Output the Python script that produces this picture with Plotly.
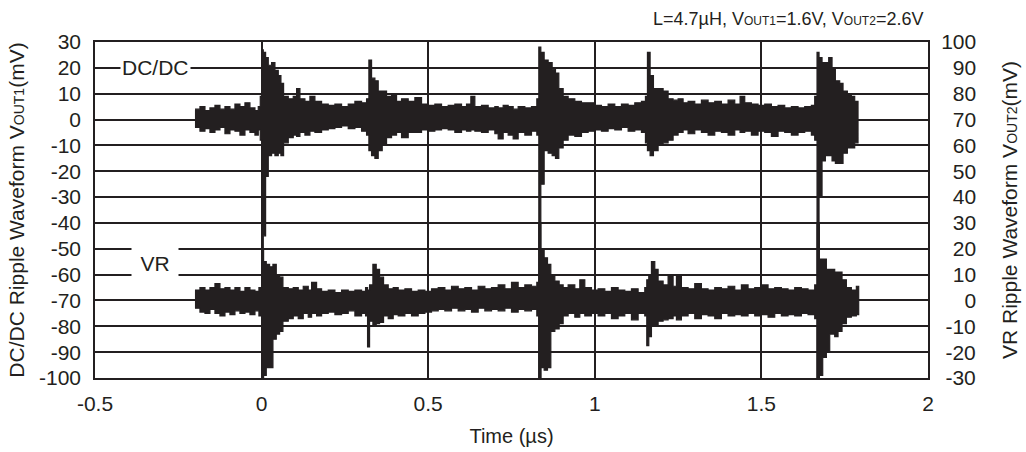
import plotly.graph_objects as go

# ---- DC/DC ripple (left axis, mV): time (us), upper and lower envelope ----
t_dcdc = [-0.200, -0.185, -0.170, -0.155, -0.140, -0.125, -0.110, -0.095, -0.080, -0.065,
          -0.050, -0.035, -0.020, -0.010, -0.004, 0.000, 0.005, 0.012, 0.020, 0.030,
          0.040, 0.050, 0.058, 0.066, 0.080, 0.095, 0.105, 0.115, 0.130, 0.145,
          0.160, 0.180, 0.200, 0.220, 0.240, 0.260, 0.280, 0.300, 0.315, 0.322,
          0.330, 0.340, 0.350, 0.362, 0.375, 0.390, 0.405, 0.420, 0.440, 0.460,
          0.480, 0.500, 0.520, 0.540, 0.560, 0.580, 0.600, 0.615, 0.628, 0.640,
          0.660, 0.680, 0.700, 0.710, 0.725, 0.740, 0.755, 0.770, 0.790, 0.810,
          0.826, 0.832, 0.838, 0.848, 0.860, 0.872, 0.882, 0.892, 0.905, 0.920,
          0.940, 0.960, 0.980, 1.000, 1.020, 1.040, 1.060, 1.080, 1.100, 1.120,
          1.140, 1.152, 1.158, 1.166, 1.176, 1.190, 1.205, 1.220, 1.235, 1.250,
          1.265, 1.280, 1.300, 1.320, 1.340, 1.360, 1.380, 1.400, 1.420, 1.436,
          1.450, 1.470, 1.490, 1.510, 1.530, 1.550, 1.570, 1.590, 1.610, 1.630,
          1.650, 1.660, 1.667, 1.673, 1.682, 1.692, 1.702, 1.712, 1.722, 1.735,
          1.745, 1.758, 1.770, 1.780, 1.790]
dcdc_hi = [4, 5, 3.5, 4.5, 5.5, 4, 5, 4, 6, 5,
           6.5, 4.5, 3.5, 5, 9, 27, 26, 24, 21, 22,
           19, 17, 14, 9, 8, 9, 12, 8, 7, 9,
           7, 6, 5.5, 6, 5, 6, 7, 6.5, 8, 23,
           16, 15, 11, 11, 9, 9.5, 7, 8, 7, 8.5,
           6, 5.5, 6, 5, 5.5, 6, 5, 6, 9, 5,
           5.5, 4.5, 5, 4.5, 5.5, 5, 4, 5, 4.5, 5,
           8, 28, 26, 23, 22, 19.5, 18, 12, 9, 8,
           7, 6.5, 6.5, 5.5, 5, 6, 5, 6, 5.5, 6.5,
           7, 9, 26, 17, 12, 12, 11, 8, 7.5, 8,
           6.5, 7, 6, 7.5, 6.5, 7, 6, 7.5, 6, 9,
           6.5, 6, 5.5, 6, 5, 5.5, 4.5, 5, 4.5, 5,
           5.5, 9, 26, 24, 22, 22, 24, 20, 15, 14,
           11, 10, 9, 7, 4]
dcdc_lo = [-3, -4.5, -3.5, -5, -4, -3, -5.5, -4, -4.5, -6,
           -4, -5, -6, -4, -8, -100, -45, -22, -14, -13,
           -14, -13, -14, -9, -7, -6, -6.5, -5, -6, -4.5,
           -5, -4, -3.5, -3, -2.5, -3.5, -3, -4.5, -6, -12,
           -14, -15, -12, -10, -7, -6, -5, -7, -5, -5,
           -4, -4.5, -4, -3.5, -4, -5, -4, -4.5, -4, -4.5,
           -5, -4, -5.5, -7.5, -5, -6, -7.5, -5, -6, -4.5,
           -6, -100, -25, -12, -13, -14, -15, -11, -8, -6,
           -6.5, -5, -4.5, -4, -4.5, -3.5, -4, -3, -4.5, -4,
           -5, -9, -12, -14, -12, -10, -9, -8, -6, -5,
           -4, -5.5, -4, -5, -6, -4.5, -5, -6, -4, -5,
           -4.5, -6, -4.5, -5, -6.5, -4.5, -5, -6, -5, -4.5,
           -6, -8, -100, -30, -16, -14, -14, -16, -17, -17,
           -13, -11, -11, -9, -4]

# ---- VR ripple (right axis, mV): time (us), upper and lower envelope ----
t_vr = [-0.200, -0.185, -0.170, -0.155, -0.140, -0.125, -0.110, -0.095, -0.080, -0.065,
        -0.050, -0.035, -0.020, -0.008, 0.000, 0.006, 0.014, 0.024, 0.034, 0.044,
        0.054, 0.064, 0.080, 0.095, 0.110, 0.125, 0.140, 0.150, 0.165, 0.180,
        0.200, 0.220, 0.240, 0.260, 0.280, 0.300, 0.312, 0.318, 0.324, 0.334,
        0.344, 0.354, 0.366, 0.380, 0.395, 0.410, 0.430, 0.450, 0.470, 0.490,
        0.510, 0.530, 0.550, 0.570, 0.590, 0.610, 0.630, 0.650, 0.670, 0.690,
        0.710, 0.730, 0.750, 0.770, 0.790, 0.810, 0.826, 0.832, 0.838, 0.848,
        0.858, 0.868, 0.880, 0.893, 0.905, 0.920, 0.940, 0.955, 0.970, 0.990,
        1.010, 1.030, 1.050, 1.070, 1.090, 1.110, 1.130, 1.150, 1.156, 1.162,
        1.170, 1.180, 1.190, 1.205, 1.220, 1.235, 1.245, 1.260, 1.280, 1.300,
        1.320, 1.340, 1.360, 1.380, 1.400, 1.420, 1.440, 1.460, 1.480, 1.500,
        1.520, 1.540, 1.560, 1.580, 1.600, 1.620, 1.640, 1.660, 1.667, 1.674,
        1.684, 1.695, 1.705, 1.720, 1.730, 1.742, 1.755, 1.770, 1.785, 1.792]
vr_hi = [4, 5, 4, 5, 6.5, 4.5, 5, 4, 5, 3.5,
         5, 4, 3.5, 5, 20, 15, 14, 13, 14, 10,
         9, 5, 4.5, 5, 4, 5.5, 4, 7, 4.5, 3.5,
         4, 3, 4, 3.5, 4, 3.5, 5, 4, 6, 14,
         12, 9, 6, 4.5, 5, 4, 4.5, 3.5, 4, 3.5,
         4.5, 5, 4, 5.5, 4.5, 5, 4, 5.5, 4.5, 5,
         6, 4.5, 7, 5, 6, 5.5, 7, 30, 20, 16.5,
         14, 10, 7.5, 6, 5, 6, 4.5, 8, 5, 4,
         4.5, 3.5, 5, 4, 3.5, 4.5, 3, 5, 8, 10,
         15, 12, 7.5, 6, 9.5, 5.5, 9.5, 5, 4.5, 6.5,
         4.5, 4, 5, 4.5, 5.5, 4, 6, 4.5, 5, 6,
         4.5, 5, 4.5, 4, 5, 4.5, 4, 6, 30, 16,
         16, 12, 12, 11, 11, 8, 5, 4, 5.5, 3]
vr_lo = [-3, -4.5, -5, -3.5, -5, -6, -4.5, -5.5, -4, -5,
         -4.5, -5.5, -4, -6, -30, -29, -26, -26, -15, -13,
         -12, -8, -7, -6, -7, -5, -6.5, -5, -6, -5,
         -4.5, -5.5, -5, -4, -6, -5, -6, -18, -8, -10,
         -9, -8.5, -6, -7, -5.5, -6, -5, -6, -5, -4.5,
         -4, -3.5, -4, -3, -4, -3.5, -4.5, -3, -4, -3.5,
         -4, -3, -4.5, -3.5, -4, -3.5, -6, -30, -26, -27,
         -26, -12, -11, -9, -6, -5, -6.5, -5, -6, -5,
         -6, -5, -7, -6, -5, -7.5, -5, -6, -17.5, -14,
         -10, -10, -8, -7.5, -7, -6, -7.5, -6, -5, -7,
         -5.5, -6, -7, -5, -6, -5.5, -6, -5, -6, -5.5,
         -6.5, -5, -6, -5.5, -6, -5, -5.5, -7, -30, -29,
         -22, -20, -13, -14, -12, -9, -6.5, -6, -5.5, -3]

x_ticks = [-0.5, 0, 0.5, 1, 1.5, 2]
x_labels = ["-0.5", "0", "0.5", "1", "1.5", "2"]
left_ticks = list(range(-100, 31, 10))
right_ticks = list(range(-30, 101, 10))

FONT = "Liberation Sans, Arial, sans-serif"
INK = "#231f20"
FSP = "\u2007"   # figure space (digit width)
THN = "\u2009"   # thin space


def left_label(v):
    return str(v)


def right_label(v):
    s = str(v)
    if s.startswith("-"):
        return THN + s
    return FSP * (3 - len(s)) + s


def step_band(t, hi, lo):
    """closed step-shaped outline between upper and lower envelopes"""
    n = len(t)
    xs, ys = [], []
    for i in range(n):
        x_end = t[i + 1] if i + 1 < n else t[i]
        xs += [t[i], x_end]
        ys += [hi[i], hi[i]]
    for i in range(n - 1, -1, -1):
        x_end = t[i + 1] if i + 1 < n else t[i]
        xs += [x_end, t[i]]
        ys += [lo[i], lo[i]]
    return xs, ys


fig = go.Figure()
for t, hi, lo, ax in [(t_dcdc, dcdc_hi, dcdc_lo, "y"), (t_vr, vr_hi, vr_lo, "y2")]:
    xs, ys = step_band(t, hi, lo)
    fig.add_trace(go.Scatter(x=xs, y=ys, mode="lines", fill="toself", fillcolor=INK,
                             line=dict(color=INK, width=1.2), yaxis=ax,
                             hoverinfo="skip", showlegend=False))

small = "<span style='font-size:{}px'>{}</span>"
TICKFONT = dict(family=FONT, size=21, color=INK)
CLEAR = "rgba(0,0,0,0)"

fig.update_layout(
    width=1026, height=452,
    margin=dict(l=95, r=98, t=42, b=74),
    paper_bgcolor="white", plot_bgcolor="white",
    font=dict(family=FONT, size=21, color=INK),
    showlegend=False,
    xaxis=dict(range=[-0.5, 2], tickvals=x_ticks, ticktext=x_labels, tickfont=TICKFONT,
               showgrid=True, gridcolor=INK, gridwidth=1.5, zeroline=False,
               showline=True, linecolor=INK, linewidth=1.5, mirror=True,
               ticks="outside", ticklen=6, tickcolor=CLEAR, automargin=False,
               title=dict(text="Time (µs)", font=dict(size=20), standoff=15)),
    yaxis=dict(range=[-100, 30], tickvals=left_ticks, ticktext=[left_label(v) for v in left_ticks],
               tickfont=TICKFONT, showgrid=True, gridcolor=INK, gridwidth=1.5,
               zeroline=False, showline=True, linecolor=INK, linewidth=1.5, mirror=True,
               ticks="outside", ticklen=8, tickcolor=CLEAR, automargin=False,
               title=dict(text="DC/DC Ripple Waveform V" + small.format(14, "OUT1") + "(mV)",
                          font=dict(size=21), standoff=9)),
    yaxis2=dict(range=[-30, 100], tickvals=right_ticks, ticktext=[right_label(v) for v in right_ticks],
                tickfont=TICKFONT, overlaying="y", side="right",
                showgrid=False, zeroline=False, showline=False,
                ticks="outside", ticklen=8, tickcolor=CLEAR, automargin=False,
                title=dict(text="VR Ripple Waveform V" + small.format(14, "OUT2") + "(mV)",
                           font=dict(size=21), standoff=27)),
)

fig.add_annotation(x=-0.317, y=20, xref="x", yref="y", text="DC/DC", showarrow=False,
                   bgcolor="white", font=dict(size=21, color=INK), borderpad=1)
fig.add_annotation(x=-0.32, y=-55.5, xref="x", yref="y", text="VR", showarrow=False,
                   bgcolor="white", font=dict(size=21, color=INK), width=44, height=34)
fig.add_annotation(x=1.0, y=1.0, xref="paper", yref="paper", xanchor="right", yanchor="bottom",
                   yshift=11, xshift=-3,
                   text="L=4.7µH, V" + small.format(12, "OUT1") + "=1.6V, V"
                        + small.format(12, "OUT2") + "=2.6V",
                   showarrow=False, font=dict(size=18, color=INK))

fig.write_html("out.html", config={"displayModeBar": False},
               post_script="document.body.style.margin='0px';")
